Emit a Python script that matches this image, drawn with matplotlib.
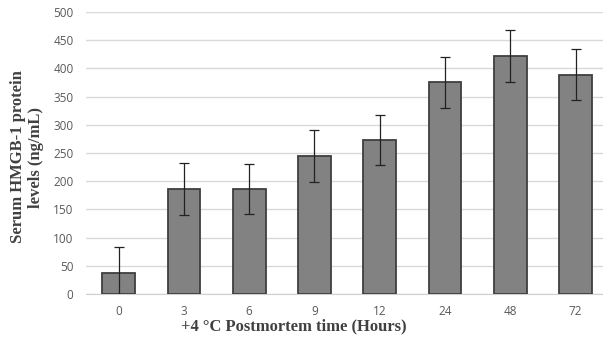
import matplotlib
matplotlib.use("Agg")
import matplotlib.pyplot as plt
import numpy as np

# data
hours = ["0", "3", "6", "9", "12", "24", "48", "72"]
levels = [38, 186, 186, 244, 273, 375, 422, 389]
errors = [46, 46, 45, 46, 45, 45, 46, 45]
yticks = [0, 50, 100, 150, 200, 250, 300, 350, 400, 450, 500]

fig = plt.figure(figsize=(6.03, 3.46), dpi=100)
ax = fig.add_axes([86 / 603, 52 / 346, 517 / 603, 282 / 346])

x = np.arange(len(hours))
ax.bar(x, levels, width=0.5, color="#828282", edgecolor="#3f3f3f",
       linewidth=1.3, zorder=3)
ax.errorbar(x, levels, yerr=errors, fmt="none", ecolor="#222222",
            elinewidth=0.9, capsize=3.5, capthick=0.9, zorder=4)

ax.set_xlim(-0.5, 7.42)
ax.set_ylim(0, 500)
ax.set_yticks(yticks)
ax.set_xticks(x)
ax.set_xticklabels(hours)
ax.yaxis.grid(True, color="#d9d9d9", linewidth=1, zorder=0)
ax.set_axisbelow(True)
for s in ["top", "right", "left"]:
    ax.spines[s].set_visible(False)
ax.spines["bottom"].set_color("#d0d0d0")
ax.tick_params(length=0, labelsize=8.5, labelcolor="#595959")
ax.tick_params(axis="y", pad=9)
ax.tick_params(axis="x", pad=8)
for lab in ax.get_xticklabels() + ax.get_yticklabels():
    lab.set_family("Open Sans")

fig.text(27 / 603, 1 - 157 / 346, "Serum HMGB-1 protein\nlevels (ng/mL)",
         rotation=90, ha="center", va="center", family="Liberation Serif",
         fontweight="bold", fontsize=12, color="#404040", linespacing=1.15)
fig.text(294 / 603, 1 - 326 / 346, "+4 °C Postmortem time (Hours)",
         ha="center", va="center", family="Liberation Serif",
         fontweight="bold", fontsize=12, color="#404040")

fig.savefig("out.png", dpi=100)
